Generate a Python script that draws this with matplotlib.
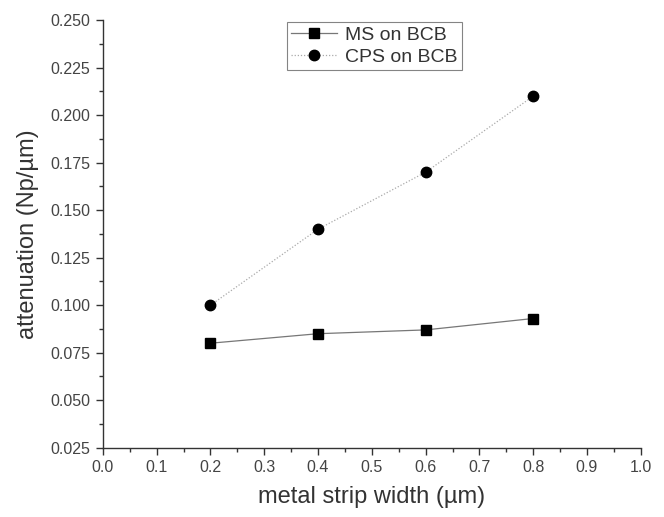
import matplotlib
matplotlib.use('Agg')
import matplotlib.pyplot as plt
from matplotlib.ticker import MultipleLocator

plt.rcParams['font.family'] = ['Liberation Sans', 'DejaVu Sans']

width = [0.2, 0.4, 0.6, 0.8]
ms_bcb = [0.080, 0.085, 0.087, 0.093]
cps_bcb = [0.100, 0.140, 0.170, 0.210]

fig = plt.figure(figsize=(6.64, 5.17), dpi=100)
ax = fig.add_axes([0.155, 0.134, 0.810, 0.827])

ax.plot(width, ms_bcb, color='#777777', lw=0.9, marker='s', ms=6.5,
        mfc='black', mec='black', label='MS on BCB')
ax.plot(width, cps_bcb, color='#aaaaaa', lw=0.9, ls=(0, (1, 1.5)), marker='o', ms=7.5,
        mfc='black', mec='black', label='CPS on BCB')

ax.set_xlim(0.0, 1.0)
ax.set_ylim(0.025, 0.250)
ax.xaxis.set_major_locator(MultipleLocator(0.1))
ax.xaxis.set_minor_locator(MultipleLocator(0.05))
ax.yaxis.set_major_locator(MultipleLocator(0.025))
ax.yaxis.set_minor_locator(MultipleLocator(0.0125))
ax.xaxis.set_major_formatter(plt.FormatStrFormatter('%.1f'))
ax.yaxis.set_major_formatter(plt.FormatStrFormatter('%.3f'))

for s in ['top', 'right']:
    ax.spines[s].set_visible(False)
for s in ['left', 'bottom']:
    ax.spines[s].set_color('#333333')
    ax.spines[s].set_linewidth(1.0)

ax.tick_params(which='major', direction='out', length=5, width=1, colors='#333333',
               labelsize=11.5, labelcolor='#444444', pad=4)
ax.tick_params(which='minor', direction='out', length=3, width=1, colors='#333333')

ax.set_xlabel('metal strip width (µm)', fontsize=17, color='#333333', labelpad=8)
ax.set_ylabel('attenuation (Np/µm)', fontsize=17, color='#333333', labelpad=8)

leg = ax.legend(loc='upper left', bbox_to_anchor=(0.342, 0.995), fontsize=14,
                frameon=True, fancybox=False, edgecolor='#666666',
                handlelength=2.4, borderpad=0.2, labelspacing=0.25, handletextpad=0.4,
                borderaxespad=0)
leg.get_frame().set_linewidth(0.8)
for t in leg.get_texts():
    t.set_color('#333333')

fig.savefig('out.png', dpi=100)
